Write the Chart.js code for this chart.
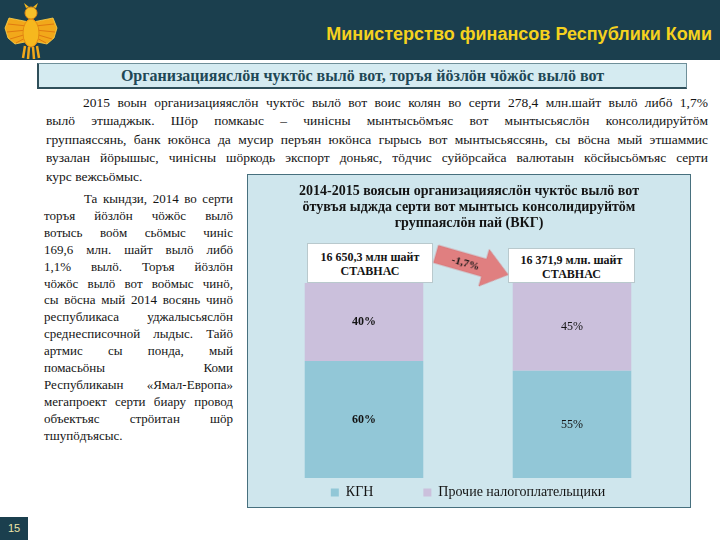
<!DOCTYPE html>
<html lang="ru">
<head>
<meta charset="utf-8">
<title>Министерство финансов Республики Коми</title>
<script src="https://cdn.jsdelivr.net/npm/chart.js@4.4.0/dist/chart.umd.min.js"></script>
<style>
html,body{margin:0;padding:0;width:720px;height:540px;overflow:hidden;background:#fff;}
#page{position:relative;width:720px;height:540px;font-family:"Liberation Serif","Times New Roman",serif;color:#141414;}
#header{position:absolute;left:0;top:0;width:720px;height:60px;background:#1b3f4e;}
#hdrText{position:absolute;right:8px;top:24px;font-family:"Liberation Sans",Arial,sans-serif;font-weight:bold;font-size:18px;color:#f5d21e;white-space:nowrap;}
#logo{position:absolute;left:3px;top:2px;}
#titleBox{position:absolute;left:37px;top:63px;width:647px;height:23px;background:#d5ebf1;border:1px solid #6f8f99;border-left:2px solid #2f4f5a;border-bottom:2px solid #2f4f5a;text-align:center;font-weight:bold;font-size:16px;line-height:23px;color:#1f4856;white-space:nowrap;}
.para{position:absolute;font-size:13.5px;}
.para div{white-space:nowrap;text-align:justify;text-align-last:justify;}
.para div.last{text-align:left;text-align-last:left;}
#p1{left:46px;top:94px;width:662px;line-height:18.4px;}
#p2{left:44px;top:191px;width:189px;line-height:16.9px;font-size:13px;}
#chartBox{position:absolute;left:247px;top:174px;width:442px;height:332px;background:#cfe6ed;border:1px solid #47707e;}
#chartTitle{position:absolute;left:0;top:8px;width:442px;text-align:center;font-weight:bold;font-size:14px;line-height:16px;color:#141414;white-space:nowrap;}
#chartCanvas{position:absolute;left:0;top:0;}
.totBox{position:absolute;background:#fff;border:1px solid #b9c9cd;text-align:center;font-weight:bold;font-size:12px;line-height:14px;color:#141414;white-space:nowrap;box-sizing:border-box;}
#arrow{position:absolute;left:0;top:0;pointer-events:none;}
#pageNo{position:absolute;left:0;top:517px;width:28px;height:23px;background:#1b3f4e;color:#efe5a8;font-family:"Liberation Sans",Arial,sans-serif;font-size:11px;line-height:23px;text-align:center;}
</style>
</head>
<body>
<div id="page">
  <div id="header">
    <svg id="logo" width="56" height="57" viewBox="0 0 56 57">
      <g fill="#f2a81a" stroke="#ffd34a" stroke-width="0.8">
        <path d="M26 20 L6 16 L2 26 L5 36 L12 42 L22 40 Z"/>
        <path d="M30 20 L50 16 L54 26 L51 36 L44 42 L34 40 Z"/>
      </g>
      <g stroke="#e07a10" stroke-width="1" fill="none">
        <path d="M24 24 L5 22 M24 28 L4 30 M24 32 L7 37 M24 35 L13 41"/>
        <path d="M32 24 L51 22 M32 28 L52 30 M32 32 L49 37 M32 35 L43 41"/>
      </g>
      <ellipse cx="28" cy="31" rx="8" ry="14" fill="#f6b81e" stroke="#e48a12" stroke-width="1"/>
      <circle cx="28" cy="11" r="6" fill="#f6c02a" stroke="#e48a12" stroke-width="1"/>
      <path d="M23 6 L21 1 L26 5 Z M33 6 L35 1 L30 5 Z" fill="#f6b81e"/>
      <path d="M22 44 L20 56 M26 45 L25 57 M30 45 L31 57 M34 44 L36 56" stroke="#f2a81a" stroke-width="2.5"/>
    </svg>
    <div id="hdrText">Министерство финансов Республики Коми</div>
  </div>

  <div id="titleBox">Организацияяслӧн чуктӧс вылӧ вот, торъя йӧзлӧн чӧжӧс вылӧ вот</div>

  <div class="para" id="p1">
    <div style="padding-left:37px">2015 воын организацияяслӧн чуктӧс вылӧ вот воис колян во серти 278,4 млн.шайт вылӧ либӧ 1,7%</div>
    <div>вылӧ этшаджык. Шӧр помкаыс – чинісны мынтысьӧмъяс вот мынтысьяслӧн консолидируйтӧм</div>
    <div>группаяссянь, банк юкӧнса да мусир перъян юкӧнса гырысь вот мынтысьяссянь, сы вӧсна мый этшаммис</div>
    <div>вузалан йӧрышыс, чинісны шӧркодь экспорт доньяс, тӧдчис суйӧрсайса валютаын кӧсйысьӧмъяс серти</div>
    <div class="last">курс вежсьӧмыс.</div>
  </div>

  <div class="para" id="p2">
    <div style="padding-left:40px">Та кындзи, 2014 во серти</div>
    <div>торъя йӧзлӧн чӧжӧс вылӧ</div>
    <div>вотысь воӧм сьӧмыс чиніс</div>
    <div>169,6 млн. шайт вылӧ либӧ</div>
    <div>1,1% вылӧ. Торъя йӧзлӧн</div>
    <div>чӧжӧс вылӧ вот воӧмыс чинӧ,</div>
    <div>сы вӧсна мый 2014 восянь чинӧ</div>
    <div>республикаса уджалысьяслӧн</div>
    <div>среднесписочной лыдыс. Тайӧ</div>
    <div>артмис сы понда, мый</div>
    <div>помасьӧны Коми</div>
    <div>Республикаын «Ямал-Европа»</div>
    <div>мегапроект серти биару провод</div>
    <div>объектъяс стрӧитан шӧр</div>
    <div class="last">тшупӧдъясыс.</div>
  </div>

  <div id="chartBox">
    <canvas id="chartCanvas" width="442" height="332"></canvas>
    <div id="chartTitle">2014-2015 воясын организацияяслӧн чуктӧс вылӧ вот<br>ӧтувъя ыджда серти вот мынтысь консолидируйтӧм<br>группаяслӧн пай (ВКГ)</div>
  </div>

  <div class="totBox" id="tot0" style="left:307px;top:243px;width:126px;height:40px;padding-top:6px;"></div>
  <div class="totBox" id="tot1" style="left:508px;top:248px;width:127px;height:35px;padding-top:4px;"></div>

  <svg id="arrow" width="720" height="540">
    <g transform="translate(436,254) rotate(16)">
      <path d="M0 -9 L50 -9 L50 -19 L75 0 L50 19 L50 9 L0 9 Z" fill="#e07f80" stroke="#d36f72" stroke-width="0.6"/>
      <text id="chgText" x="31" y="4" font-family="Liberation Serif, serif" font-size="11" font-weight="bold" text-anchor="middle" fill="#141414"></text>
    </g>
  </svg>

  <div id="pageNo">15</div>
</div>

<script>
// ---- data ----
const categories = ['2014', '2015'];
const seriesNames = ['КГН', 'Прочие налогоплательщики'];
const kgnShare = [60, 55];
const otherShare = [40, 45];
const totalLabels = ['16 650,3 млн шайт', '16 371,9 млн. шайт'];
const unitLabel = 'СТАВНАС';
const changeLabel = '-1,7%';

// ---- annotation text ----
document.getElementById('tot0').innerHTML = totalLabels[0] + '<br>' + unitLabel;
document.getElementById('tot1').innerHTML = totalLabels[1] + '<br>' + unitLabel;
document.getElementById('chgText').textContent = changeLabel;

Chart.defaults.font.family = "'Liberation Serif', 'Times New Roman', serif";
Chart.defaults.color = '#141414';

// ---- plugins ----
const pctLabels = {
  id: 'pctLabels',
  afterDatasetsDraw(chart) {
    const ctx = chart.ctx;
    ctx.save();
    ctx.fillStyle = '#141414';
    ctx.textAlign = 'center';
    ctx.textBaseline = 'middle';
    chart.data.datasets.forEach((ds, i) => {
      const meta = chart.getDatasetMeta(i);
      meta.data.forEach((bar, j) => {
        const p = bar.getProps(['x', 'y', 'base'], true);
        ctx.font = (j === 0 ? 'bold ' : '') + "12px 'Liberation Serif', serif";
        ctx.fillText(ds.data[j] + '%', p.x, (p.y + p.base) / 2);
      });
    });
    ctx.restore();
  }
};

// keep wide horizontal spacing between legend items while keeping the legend row close to the bars
const legendPlace = {
  id: 'legendPlace',
  afterLayout(chart) {
    const lg = chart.legend;
    if (!lg) return;
    const pad = lg.options.labels.padding;
    lg.top = chart.chartArea.bottom + 7.5 - pad;
    lg.bottom = lg.top + pad + 24;
    lg.height = lg.bottom - lg.top;
  }
};

new Chart(document.getElementById('chartCanvas'), {
  type: 'bar',
  data: {
    labels: categories,
    datasets: [
      { label: seriesNames[0], data: kgnShare, backgroundColor: '#92c7d7', borderWidth: 0 },
      { label: seriesNames[1], data: otherShare, backgroundColor: '#cbc0dc', borderWidth: 0 }
    ]
  },
  options: {
    responsive: false,
    animation: false,
    devicePixelRatio: 1,
    layout: { padding: { left: 12, right: 14, top: 108, bottom: 11 } },
    datasets: { bar: { barPercentage: 0.57, categoryPercentage: 1.0 } },
    scales: {
      x: { stacked: true, display: false },
      y: { stacked: true, display: false, min: 0, max: 100 }
    },
    plugins: {
      title: { display: false },
      tooltip: { enabled: false },
      legend: {
        position: 'bottom',
        maxHeight: 18,
        labels: {
          boxWidth: 8,
          boxHeight: 8,
          padding: 50,
          color: '#141414',
          font: { family: "'Liberation Serif', 'Times New Roman', serif", size: 14 }
        }
      }
    }
  },
  plugins: [pctLabels, legendPlace]
});
</script>
</body>
</html>
